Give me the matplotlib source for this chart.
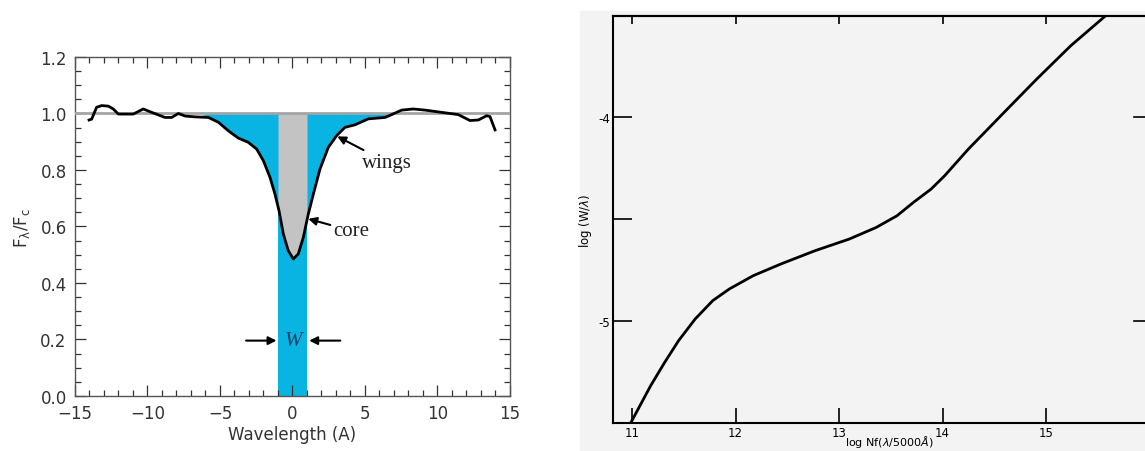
import numpy as np
import matplotlib.pyplot as plt
from matplotlib.patches import Rectangle
from matplotlib.ticker import MultipleLocator, FixedLocator

# --- left panel: normalised line profile ---
wave = [-14.03, -13.85, -13.51, -13.16, -12.70, -12.36, -12.01, -10.98,
        -10.29, -9.71, -8.79, -8.33, -7.87, -7.41, -6.72, -5.80, -5.11,
        -4.43, -3.74, -3.05, -2.47, -2.01, -1.55, -1.21, -0.93, -0.63,
        -0.29, 0.06, 0.40, 0.75, 1.09, 1.44, 1.90, 2.47, 3.05, 3.62, 4.31,
        5.23, 6.38, 6.84, 7.53, 8.33, 9.14, 10.29, 11.44, 12.24, 12.82,
        13.39, 13.62, 13.97]
flux = [0.977, 0.980, 1.022, 1.028, 1.026, 1.016, 0.998, 0.998, 1.016,
        1.004, 0.986, 0.986, 1.0, 0.991, 0.988, 0.986, 0.969, 0.939, 0.913,
        0.898, 0.874, 0.833, 0.774, 0.715, 0.656, 0.573, 0.514, 0.485,
        0.503, 0.562, 0.644, 0.715, 0.804, 0.880, 0.922, 0.951, 0.960,
        0.981, 0.986, 0.996, 1.012, 1.016, 1.012, 1.004, 0.996, 0.975,
        0.977, 0.992, 0.989, 0.942]
continuum = 1.0
eq_width = 2.0
wing_range = (-6.0, 6.6)

# --- right panel: curve of growth ---
log_nf = [10.99, 11.18, 11.315, 11.45, 11.61, 11.78, 11.94, 12.17, 12.44,
          12.77, 13.10, 13.36, 13.56, 13.72, 13.89, 14.02, 14.25, 14.58,
          14.91, 15.24, 15.57]
log_w = [-5.497, -5.317, -5.203, -5.096, -4.99, -4.90, -4.843, -4.778,
         -4.72, -4.655, -4.598, -4.541, -4.484, -4.418, -4.353, -4.288,
         -4.157, -3.985, -3.814, -3.65, -3.506]
x_ticks = [11, 12, 13, 14, 15]

blue = '#0ab4e2'
grey = '#c3c3c3'

fig = plt.figure(figsize=(11.45, 4.52), dpi=100)

ax = fig.add_axes([0.0655, 0.1217, 0.3799, 0.75])
w = np.array(wave)
f = np.array(flux)
ax.bar(0, continuum, width=eq_width, color=blue, linewidth=0, zorder=1)
wing = (w >= wing_range[0]) & (w <= wing_range[1])
ax.fill_between(w, f, continuum, where=wing, color=blue, linewidth=0,
                interpolate=True, zorder=1)
xc = np.linspace(-eq_width / 2, eq_width / 2, 50)
ax.fill_between(xc, np.interp(xc, w, f), continuum, color=grey,
                linewidth=0, zorder=2)
ax.axhline(continuum, color='#a5a5a5', lw=2, zorder=3)
ax.plot(w, f, color='black', lw=2, zorder=4)

ax.set_xlim(-15, 15)
ax.set_ylim(0, 1.2)
ax.xaxis.set_major_locator(MultipleLocator(5))
ax.xaxis.set_minor_locator(MultipleLocator(1))
ax.yaxis.set_major_locator(MultipleLocator(0.2))
ax.yaxis.set_minor_locator(MultipleLocator(0.05))
ax.yaxis.set_major_formatter(lambda v, p: f'{v:.1f}')
ax.xaxis.set_major_formatter(lambda v, p: f'{v:.0f}'.replace('-', '\u2212'))
ax.tick_params(which='both', direction='in', top=True, right=True,
               labelsize=12, colors='#333333', width=0.9)
ax.tick_params(which='major', length=8, pad=6)
ax.tick_params(which='minor', length=4)
for s in ax.spines.values():
    s.set_color('#555555')
    s.set_linewidth(1)
ax.set_xlabel('Wavelength (A)', fontsize=12, color='#333333', labelpad=2)
ax.set_ylabel(r'$\mathsf{F_\lambda/F_c}$', fontsize=12, color='#333333',
              labelpad=6)

serif = ['Liberation Serif', 'DejaVu Serif']
ax.annotate('wings', xy=(3.09, 0.919), xytext=(4.8, 0.827),
            fontsize=15, family=serif, color='#222222', va='center',
            arrowprops=dict(arrowstyle='-|>', color='black', lw=1.5,
                            shrinkA=0, shrinkB=0, mutation_scale=12))
ax.annotate('core', xy=(1.09, 0.627), xytext=(2.8, 0.585),
            fontsize=15, family=serif, color='#222222', va='center',
            arrowprops=dict(arrowstyle='-|>', color='black', lw=1.5,
                            shrinkA=0, shrinkB=0, mutation_scale=12))
ax.text(0.05, 0.196, 'W', fontsize=15, family=serif, style='italic',
        color='#1a4060', ha='center', va='center', zorder=5)
ax.annotate('', xy=(-1.1, 0.196), xytext=(-3.2, 0.196),
            arrowprops=dict(arrowstyle='-|>', color='black', lw=1.5,
                            shrinkA=0, shrinkB=0, mutation_scale=12))
ax.annotate('', xy=(1.15, 0.196), xytext=(3.3, 0.196),
            arrowprops=dict(arrowstyle='-|>', color='black', lw=1.5,
                            shrinkA=0, shrinkB=0, mutation_scale=12))

# --- right panel ---
fig.patches.append(Rectangle((580 / 1145, 0), 1 - 580 / 1145, 1 - 12 / 452,
                             transform=fig.transFigure, color='#f3f3f3',
                             zorder=-5))
ax2 = fig.add_axes([0.5354, 0.0619, 0.4655, 0.9004])
ax2.set_zorder(2)
ax2.set_facecolor('#f3f3f3')
ax2.plot(log_nf, log_w, color='black', lw=2)
ax2.set_xlim(10.8164, 15.966)
ax2.set_ylim(-5.5, -3.505)
ax2.xaxis.set_major_locator(FixedLocator(x_ticks))
ax2.yaxis.set_major_locator(FixedLocator([-5, -4.5, -4]))
ax2.yaxis.set_major_formatter(lambda v, p: '' if v == -4.5 else f'{v:.0f}')
ax2.tick_params(direction='in', width=1.2, labelsize=8.5, colors='black',
                pad=2)
ax2.tick_params(axis='x', length=11)
ax2.tick_params(axis='y', length=14)
for s in ax2.spines.values():
    s.set_linewidth(1.5)
top = ax2.secondary_xaxis('top')
top.set_xticks(x_ticks)
top.tick_params(direction='in', length=6, width=1.2, labeltop=False)
top.spines['top'].set_linewidth(1.5)
for v in [-5, -4]:
    ax2.plot([15.966, 15.85], [v, v], color='black', lw=1.2, clip_on=False)
ax2.set_xlabel(r'log Nf($\lambda$/5000$\AA$)', fontsize=8, va='bottom')
ax2.xaxis.set_label_coords(0.519, -0.065)
ax2.set_ylabel(r'log (W/$\lambda$)', fontsize=8.5, labelpad=3)

fig.savefig('out.png', dpi=100)
